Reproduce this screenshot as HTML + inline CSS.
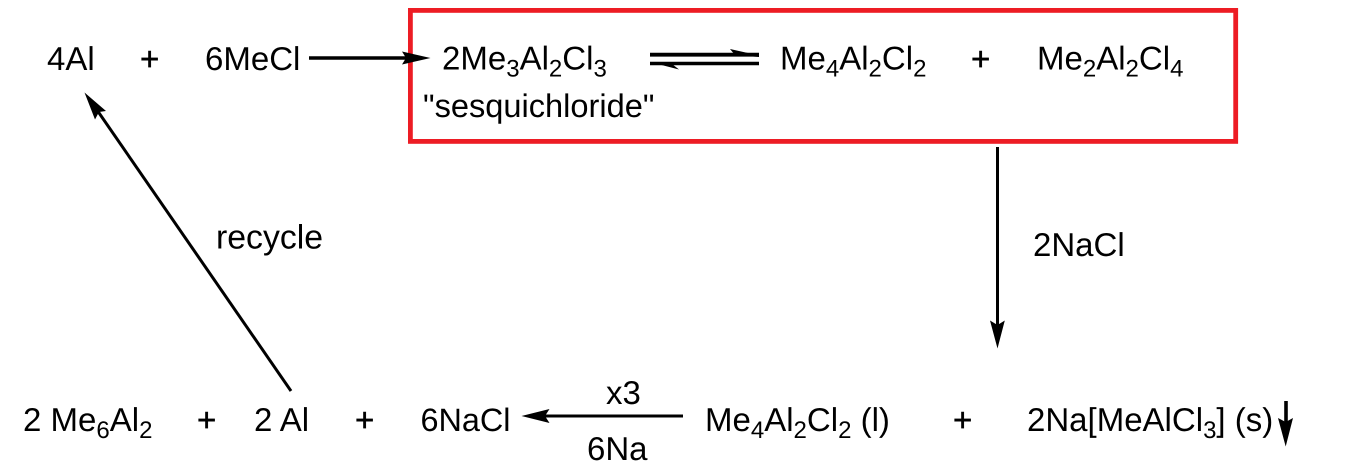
<!DOCTYPE html>
<html><head><meta charset="utf-8"><style>
html,body{margin:0;padding:0;background:#fff}
svg{display:block}
text{font-family:"Liberation Sans",sans-serif;font-size:33px;fill:#000;text-rendering:geometricPrecision}
.s{font-size:24px}
.p{stroke:#000;stroke-width:.5px}
</style></head><body>
<svg width="1346" height="469" viewBox="0 0 1346 469" xmlns="http://www.w3.org/2000/svg">
<rect x="410.4" y="10.4" width="825.3" height="131" fill="none" stroke="#ed1c24" stroke-width="4.8"/>
<text x="47" y="70">4Al</text>
<text x="140" y="70" class="p">+</text>
<text x="205" y="70">6MeCl</text>
<text x="442" y="69.5">2Me<tspan class="s" dy="7">3</tspan><tspan dy="-7">Al</tspan><tspan class="s" dy="7">2</tspan><tspan dy="-7">Cl</tspan><tspan class="s" dy="7">3</tspan></text>
<text x="423" y="117" style="font-size:32.6px">"sesquichloride"</text>
<text x="780" y="69.5">Me<tspan class="s" dy="7">4</tspan><tspan dy="-7">Al</tspan><tspan class="s" dy="7">2</tspan><tspan dy="-7">Cl</tspan><tspan class="s" dy="7">2</tspan></text>
<text x="971" y="70" class="p">+</text>
<text x="1037" y="69.5">Me<tspan class="s" dy="7">2</tspan><tspan dy="-7">Al</tspan><tspan class="s" dy="7">2</tspan><tspan dy="-7">Cl</tspan><tspan class="s" dy="7">4</tspan></text>
<text x="216" y="248.3" style="font-size:33.8px">recycle</text>
<text x="1033" y="256">2NaCl</text>
<text x="23" y="431">2 Me<tspan class="s" dy="7">6</tspan><tspan dy="-7">Al</tspan><tspan class="s" dy="7">2</tspan></text>
<text x="197" y="431" class="p">+</text>
<text x="254" y="431">2 Al</text>
<text x="355" y="431" class="p">+</text>
<text x="420.5" y="431" style="font-size:32.4px">6NaCl</text>
<text x="606" y="404">x3</text>
<text x="587" y="460">6Na</text>
<text x="705" y="431">Me<tspan class="s" dy="7">4</tspan><tspan dy="-7">Al</tspan><tspan class="s" dy="7">2</tspan><tspan dy="-7">Cl</tspan><tspan class="s" dy="7">2</tspan><tspan dy="-7"> (l)</tspan></text>
<text x="953" y="431" class="p">+</text>
<text x="1027" y="431">2Na[MeAlCl<tspan class="s" dy="7">3</tspan><tspan dy="-7">] (s)</tspan></text>

<line x1="309" y1="58" x2="412" y2="58" stroke="#000" stroke-width="3.6"/>
<polygon points="430.5,58 402,51.5 406,58 402,64.5" fill="#000"/>
<line x1="650" y1="54.7" x2="759" y2="54.7" stroke="#000" stroke-width="3.8"/>
<polygon points="730,49 759,55.5 759,57 735,55" fill="#000"/>
<line x1="650" y1="63.5" x2="759" y2="63.5" stroke="#000" stroke-width="3.4"/>
<polygon points="650,62 679,69.5 672,64" fill="#000"/>
<line x1="997.5" y1="147" x2="997.5" y2="332" stroke="#000" stroke-width="3"/>
<polygon points="997.5,348.5 990,320.5 997.5,325 1004.8,320.5" fill="#000"/>
<line x1="683" y1="416" x2="538" y2="416" stroke="#000" stroke-width="3"/>
<polygon points="521.5,416 549.5,409 545,416 549.5,423" fill="#000"/>
<line x1="1286" y1="401" x2="1286" y2="430" stroke="#000" stroke-width="3.6"/>
<polygon points="1285.7,446.5 1278,418 1285.7,422 1293,418" fill="#000"/>
<line x1="291" y1="391" x2="97" y2="110" stroke="#000" stroke-width="3"/>
<polygon points="84.5,92.5 106,111 99,112 95,119.5" fill="#000"/>
</svg>
</body></html>
